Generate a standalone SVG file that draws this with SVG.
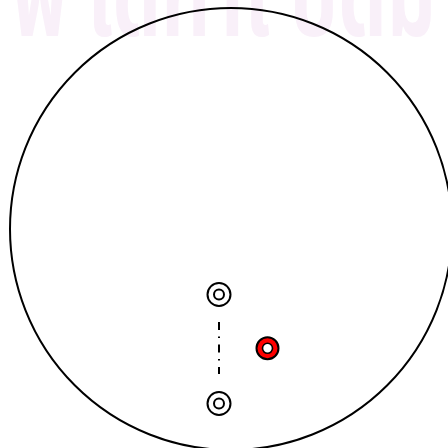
<svg xmlns="http://www.w3.org/2000/svg" width="448" height="448" viewBox="0 0 448 448">
<style>
.wm{font-family:"Noto Sans Thai","Noto Sans","DejaVu Sans",sans-serif;font-size:110px;font-weight:bold;fill:#f9f0f9}
.ring{fill:none;stroke:#000;stroke-width:2}
.edge{fill:none;stroke:#000;stroke-width:2;stroke-dasharray:8 6.5 1.5 6.5}
</style>
<rect width="448" height="448" fill="#fff"/>
<text class="wm" x="12" y="36" textLength="424" lengthAdjust="spacingAndGlyphs">พ ใดทำไ บดม</text>
<g id="boundary"><circle cx="231" cy="229" r="221" class="ring"/></g>
<g id="connectors"><line x1="219" y1="322" x2="219" y2="374" class="edge"/></g>
<g id="node-top"><circle cx="219" cy="294.5" r="11.5" class="ring"/><circle cx="219" cy="294.5" r="5" class="ring"/></g>
<g id="node-bottom"><circle cx="219" cy="403.5" r="11.5" class="ring"/><circle cx="219" cy="403.5" r="5" class="ring"/></g>
<g id="node-red"><circle cx="267.5" cy="348.3" r="11" fill="#ff0000" stroke="#000" stroke-width="2"/><circle cx="267.5" cy="348.3" r="5" fill="#fff" stroke="#000" stroke-width="1.6"/></g>
</svg>
